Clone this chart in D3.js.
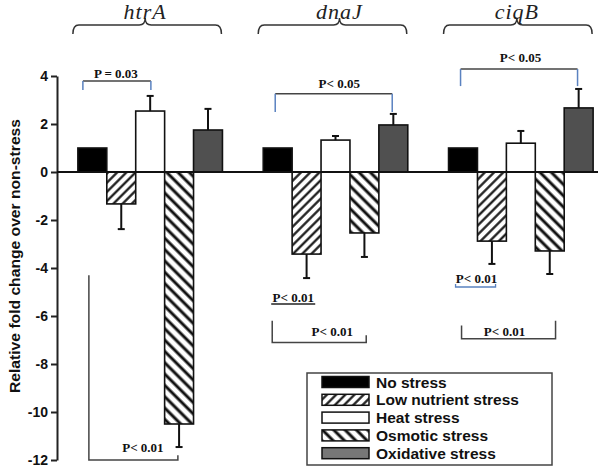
<!DOCTYPE html>
<html><head><meta charset="utf-8">
<script src="https://cdn.jsdelivr.net/npm/d3@7"></script>
<style>body{margin:0;background:#fff}svg{display:block}</style>
</head><body><svg id="c" width="600" height="469"></svg>
<script>
const genes = ["htrA", "dnaJ", "ciqB"];
const conditions = ["No stress", "Low nutrient stress", "Heat stress", "Osmotic stress", "Oxidative stress"];
const htrAValues = [1, -1.33, 2.54, -10.5, 1.75];
const htrAErrors = [0, 1.05, 0.63, 0.96, 0.88];
const dnaJValues = [1, -3.42, 1.33, -2.54, 1.96];
const dnaJErrors = [0, 1.0, 0.17, 1.0, 0.46];
const ciqBValues = [1, -2.88, 1.2, -3.29, 2.67];
const ciqBErrors = [0, 0.95, 0.51, 0.96, 0.79];
const yTicks = [4, 2, 0, -2, -4, -6, -8, -10, -12];
const yLabel = "Relative fold change over non-stress";

const valuesByGene = {htrA: htrAValues, dnaJ: dnaJValues, ciqB: ciqBValues};
const errorsByGene = {htrA: htrAErrors, dnaJ: dnaJErrors, ciqB: ciqBErrors};
const rows = [];
genes.forEach(g => conditions.forEach((c, i) => rows.push({gene: g, cond: c, i, v: valuesByGene[g][i], e: errorsByGene[g][i]})));

const svg = d3.select("#c");
const y = d3.scaleLinear().domain([-12, 4]).range([460, 76]);
const x0 = d3.scaleBand().domain(genes).range([57.5, 613.5]).paddingInner(0.22).paddingOuter(0.11);
const x1 = d3.scaleBand().domain(conditions).range([0, x0.bandwidth()]).padding(0);

// patterns
const defs = svg.append("defs");
function hatch(id, angle, gap, w) {
  const p = defs.append("pattern").attr("id", id).attr("patternUnits", "userSpaceOnUse")
    .attr("width", gap).attr("height", gap).attr("patternTransform", `rotate(${angle})`);
  p.append("rect").attr("width", gap).attr("height", gap).attr("fill", "#fff");
  p.append("line").attr("x1", gap/2).attr("x2", gap/2).attr("y1", 0).attr("y2", gap)
    .attr("stroke", "#111").attr("stroke-width", w);
}
hatch("low", 45, 6.5, 2.2);
hatch("osm", -45, 8, 3);
const fills = {"No stress": "#000", "Low nutrient stress": "url(#low)", "Heat stress": "#fff", "Osmotic stress": "url(#osm)", "Oxidative stress": "#505050"};

// y axis
const yAxis = d3.axisLeft(y).tickValues(yTicks).tickSize(6).tickSizeOuter(0).tickFormat(d => String(d));
const ga = svg.append("g").attr("transform", "translate(57,0)").call(yAxis);
ga.select(".domain").attr("stroke", "#222").attr("stroke-width", 2);
ga.selectAll(".tick line").attr("stroke", "#222").attr("stroke-width", 2);
ga.selectAll(".tick text").attr("font-family", "'Liberation Sans',Arial,sans-serif")
  .attr("font-weight", "bold").attr("font-size", 14).attr("fill", "#111").attr("x", -9);

svg.append("text").attr("transform", `translate(20,256) rotate(-90)`).attr("text-anchor", "middle")
  .attr("font-family", "'Liberation Sans',Arial,sans-serif")
  .attr("font-weight", "bold").attr("font-size", 15.5).attr("fill", "#111")
  .attr("textLength", 274).attr("lengthAdjust", "spacingAndGlyphs").text(yLabel);

// bars
const bars = svg.append("g");
bars.selectAll("rect").data(rows).join("rect")
  .attr("x", d => x0(d.gene) + x1(d.cond))
  .attr("width", x1.bandwidth())
  .attr("y", d => y(Math.max(0, d.v)))
  .attr("height", d => Math.abs(y(d.v) - y(0)))
  .attr("fill", d => fills[d.cond]).attr("stroke", "#111").attr("stroke-width", 1.6);

// error bars
const eb = svg.append("g").attr("stroke", "#111").attr("stroke-width", 2);
rows.filter(d => d.e > 0).forEach(d => {
  const cx = x0(d.gene) + x1(d.cond) + x1.bandwidth() / 2;
  const end = d.v >= 0 ? d.v + d.e : d.v - d.e;
  eb.append("line").attr("x1", cx).attr("x2", cx).attr("y1", y(d.v)).attr("y2", y(end));
  eb.append("line").attr("x1", cx - 3.5).attr("x2", cx + 3.5).attr("y1", y(end)).attr("y2", y(end));
});

// zero line
svg.append("line").attr("x1", 57).attr("x2", 598).attr("y1", y(0)).attr("y2", y(0)).attr("stroke", "#111").attr("stroke-width", 2);

// gene labels and braces
const labelDx = {htrA: -5, dnaJ: 4, ciqB: -4};
genes.forEach(g => {
  const a = x0(g) - 5, b = x0(g) + x0.bandwidth() - 1, cx = x0(g) + x0.bandwidth() / 2 + labelDx[g];
  const yy = 25;
  svg.append("path").attr("fill", "none").attr("stroke", "#333").attr("stroke-width", 1.5)
    .attr("d", `M${a},${yy + 9} Q${a},${yy} ${a + 6},${yy} L${cx - 6},${yy} Q${cx},${yy} ${cx},${yy - 7} Q${cx},${yy} ${cx + 6},${yy} L${b - 6},${yy} Q${b},${yy} ${b},${yy + 9}`);
  svg.append("text").attr("x", cx).attr("y", 19).attr("text-anchor", "middle")
    .attr("font-family", "'Liberation Serif','Times New Roman',serif").attr("font-style", "italic")
    .attr("font-size", 22).attr("letter-spacing", 1).attr("fill", "#222").text(g);
});

// significance annotations
const pFont = "'Liberation Serif','Times New Roman',serif";
function ptext(xp, yp, t) {
  return svg.append("text").attr("x", xp).attr("y", yp).attr("text-anchor", "middle")
    .attr("font-family", pFont).attr("font-weight", "bold").attr("font-size", 13).attr("fill", "#111").text(t);
}
function topBracket(xa, xb, yTop, yEnd, endColor) {
  svg.append("line").attr("x1", xa).attr("x2", xb).attr("y1", yTop).attr("y2", yTop).attr("stroke", "#444").attr("stroke-width", 1.5);
  [xa, xb].forEach(xx => svg.append("line").attr("x1", xx).attr("x2", xx).attr("y1", yTop).attr("y2", yEnd).attr("stroke", endColor).attr("stroke-width", 1.5));
}
function bottomBracket(xa, xb, yA, yB, yBot) {
  svg.append("path").attr("fill", "none").attr("stroke", "#444").attr("stroke-width", 1.5)
    .attr("d", `M${xa},${yA} L${xa},${yBot} L${xb},${yBot} L${xb},${yB}`);
}
const gx = g => x0(g);
// htrA
topBracket(gx("htrA") + 5, gx("htrA") + 73, y(3.79), y(3.42), "#5a82c0");
ptext(gx("htrA") + 38, 78, "P = 0.03");
bottomBracket(gx("htrA") + 11, gx("htrA") + 100, y(-4.3), y(-11.8), y(-12.0));
ptext(gx("htrA") + 65, 452, "P< 0.01");
// dnaJ
topBracket(gx("dnaJ") + 12, gx("dnaJ") + 129, y(3.26), y(2.5), "#5a82c0");
ptext(gx("dnaJ") + 76, 88, "P< 0.05");
ptext(gx("dnaJ") + 30, 302, "P< 0.01");
svg.append("line").attr("x1", gx("dnaJ") + 8).attr("x2", gx("dnaJ") + 52).attr("y1", 304).attr("y2", 304).attr("stroke", "#222").attr("stroke-width", 1.5);
bottomBracket(gx("dnaJ") + 9, gx("dnaJ") + 103, y(-6.2), y(-6.8), y(-7.1));
ptext(gx("dnaJ") + 69, 336, "P< 0.01");
// ciqB
topBracket(gx("ciqB") + 12, gx("ciqB") + 129, y(4.29), y(3.58), "#5a82c0");
ptext(gx("ciqB") + 72, 62, "P< 0.05");
ptext(gx("ciqB") + 28, 283, "P< 0.01");
svg.append("path").attr("fill", "none").attr("stroke", "#5a82c0").attr("stroke-width", 1.3)
  .attr("d", `M${gx("ciqB") + 7},${284} L${gx("ciqB") + 7},${287} L${gx("ciqB") + 47},${287} L${gx("ciqB") + 47},${284}`);
bottomBracket(gx("ciqB") + 13, gx("ciqB") + 107, y(-6.4), y(-6.2), y(-6.95));
ptext(gx("ciqB") + 56, 336, "P< 0.01");

// legend
const lg = svg.append("g");
lg.append("rect").attr("x", 307).attr("y", 373).attr("width", 245).attr("height", 92)
  .attr("fill", "#fff").attr("stroke", "#444").attr("stroke-width", 1.5);
const legendFills = Object.assign({}, fills, {"Oxidative stress": "#777"});
conditions.forEach((c, i) => {
  const cy = 382 + i * 17.8;
  lg.append("rect").attr("x", 322).attr("y", cy - 5.5).attr("width", 47).attr("height", 11)
    .attr("fill", legendFills[c]).attr("stroke", "#111").attr("stroke-width", 1.5);
  lg.append("text").attr("x", 376).attr("y", cy + 5.5).attr("font-family", "'Liberation Sans',Arial,sans-serif")
    .attr("font-weight", "bold").attr("font-size", 15.5).attr("fill", "#111").text(c);
});
</script></body></html>
